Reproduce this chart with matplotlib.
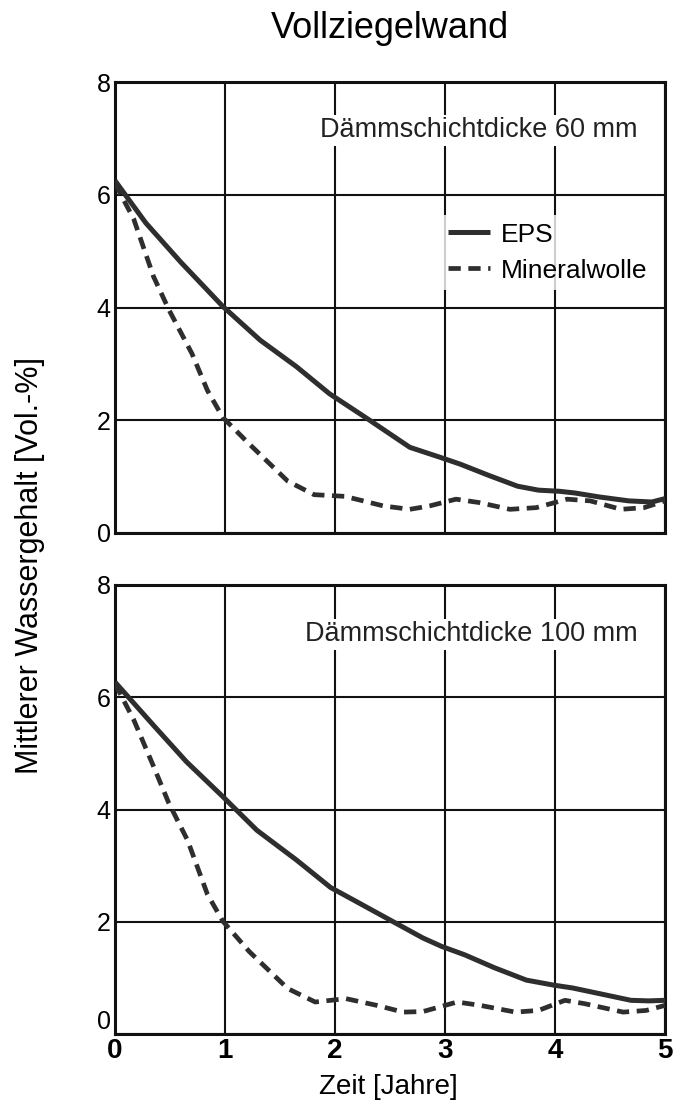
import matplotlib
matplotlib.use("Agg")
import matplotlib.pyplot as plt

plt.rcParams['font.family'] = ['Liberation Sans', 'DejaVu Sans']

# Dämmschichtdicke 60 mm
eps60_x = [0.0, 0.28, 0.6, 0.98, 1.32, 1.65, 1.95, 2.3, 2.68, 2.96, 3.14, 3.4, 3.66, 3.85, 4.04, 4.18, 4.4, 4.67, 4.88, 5.0]
eps60_y = [6.25, 5.5, 4.8, 4.02, 3.42, 2.95, 2.47, 2.02, 1.52, 1.34, 1.22, 1.02, 0.83, 0.76, 0.74, 0.71, 0.64, 0.57, 0.55, 0.61]
mw60_x = [0.0, 0.17, 0.35, 0.49, 0.7, 0.84, 0.98, 1.22, 1.57, 1.81, 2.09, 2.44, 2.68, 2.86, 3.1, 3.31, 3.59, 3.83, 4.11, 4.32, 4.6, 4.81, 5.0]
mw60_y = [6.2, 5.57, 4.55, 3.96, 3.18, 2.53, 2.05, 1.58, 0.92, 0.68, 0.65, 0.48, 0.42, 0.48, 0.6, 0.54, 0.42, 0.45, 0.6, 0.57, 0.42, 0.45, 0.57]

# Dämmschichtdicke 100 mm
eps100_x = [0.0, 0.35, 0.65, 0.98, 1.29, 1.65, 1.96, 2.25, 2.52, 2.8, 2.97, 3.18, 3.45, 3.74, 3.99, 4.16, 4.45, 4.69, 4.85, 5.0]
eps100_y = [6.27, 5.5, 4.85, 4.23, 3.63, 3.1, 2.61, 2.3, 2.01, 1.71, 1.56, 1.41, 1.18, 0.96, 0.87, 0.82, 0.7, 0.6, 0.59, 0.6]
mw100_x = [0.0, 0.17, 0.35, 0.49, 0.66, 0.84, 0.98, 1.22, 1.57, 1.82, 2.1, 2.38, 2.62, 2.8, 3.11, 3.32, 3.64, 3.85, 4.09, 4.27, 4.62, 4.83, 5.0]
mw100_y = [6.24, 5.6, 4.77, 4.11, 3.45, 2.49, 2.01, 1.47, 0.81, 0.57, 0.63, 0.51, 0.39, 0.4, 0.57, 0.51, 0.39, 0.42, 0.6, 0.54, 0.39, 0.42, 0.51]

x_ticks = [0, 1, 2, 3, 4, 5]
y_ticks = [0, 2, 4, 6, 8]

W, H = 681, 1111
fig = plt.figure(figsize=(W / 100, H / 100), dpi=100)

def make_axes(top, bottom):
    return fig.add_axes([115 / W, 1 - bottom / H, 550 / W, (bottom - top) / H])

ax1 = make_axes(82, 533)
ax2 = make_axes(585, 1034)

panels = [
    (ax1, eps60_x, eps60_y, mw60_x, mw60_y, "Dämmschichtdicke 60 mm", 0.893),
    (ax2, eps100_x, eps100_y, mw100_x, mw100_y, "Dämmschichtdicke 100 mm", 0.89),
]

line_col = "#2e2e2e"
for ax, ex, ey, mx, my, label, ty in panels:
    ax.plot(ex, ey, color=line_col, lw=3.6, solid_capstyle="butt", solid_joinstyle="round",
            label="EPS", zorder=3)
    ax.plot(mx, my, color=line_col, lw=3.4, ls=(0, (2.6, 1.6)), label="Mineralwolle", zorder=3)
    ax.set_xlim(0, 5)
    ax.set_ylim(0, 8)
    ax.set_xticks(x_ticks)
    ax.set_yticks(y_ticks)
    ax.grid(True, color="#111111", lw=1.5)
    ax.tick_params(length=0, labelsize=18, pad=3)
    for s in ax.spines.values():
        s.set_linewidth(2.2)
        s.set_color("#111111")
    ax.text(0.95, ty, label, transform=ax.transAxes, ha="right", va="center",
            fontsize=19.5, color="#222222",
            bbox=dict(facecolor="white", edgecolor="none", pad=2))

ax1.tick_params(labelbottom=False)
ax2.tick_params(axis="x", labelsize=20, pad=3)
for t in ax2.get_xticklabels():
    t.set_fontweight("bold")
# lowest y label of the lower panel sits just above the x labels
ax2.get_yticklabels()[0].set_verticalalignment("bottom")

leg = ax1.legend(loc="upper left", bbox_to_anchor=(0.567, 0.735), frameon=True,
                 facecolor="white", edgecolor="none", fancybox=False,
                 fontsize=19, handlelength=1.6, handletextpad=0.4, labelspacing=0.45,
                 borderpad=0.3)

fig.text(390 / W, 1 - 28 / H, "Vollziegelwand", ha="center", va="center", fontsize=26)
fig.text(30 / W, 1 - 565 / H, "Mittlerer Wassergehalt [Vol.-%]", ha="center", va="center",
         rotation=90, fontsize=22)
fig.text(388 / W, 1 - 1087 / H, "Zeit [Jahre]", ha="center", va="center", fontsize=20)

fig.savefig("out.png", dpi=100)
